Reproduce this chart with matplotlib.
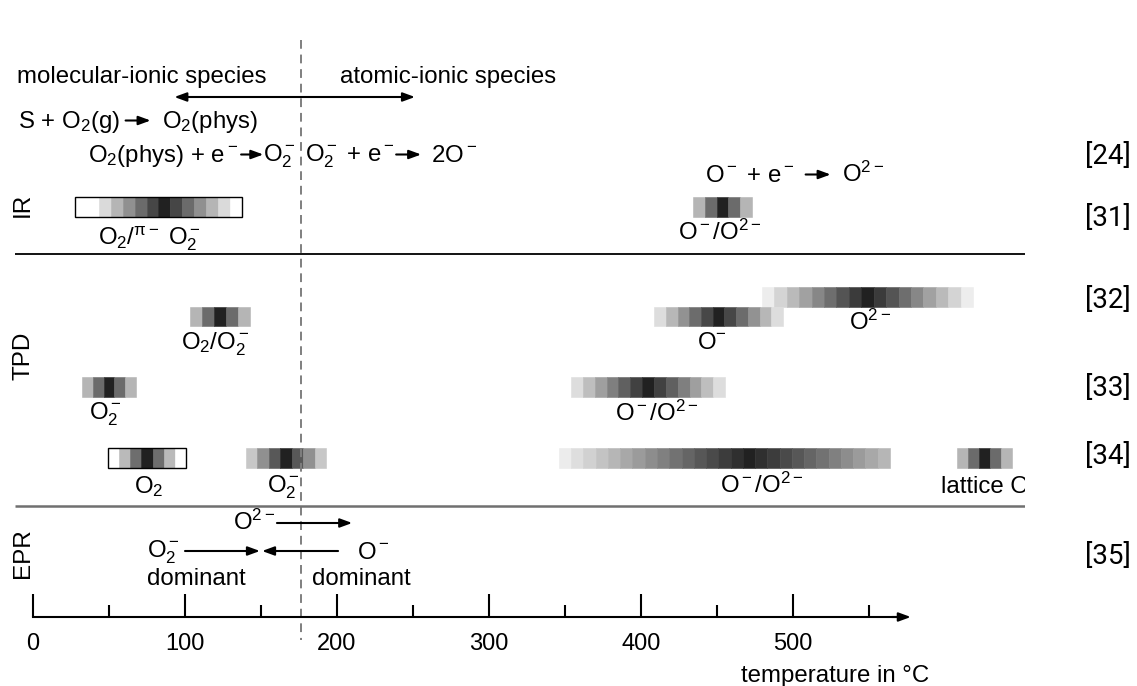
import matplotlib.pyplot as plt
import numpy as np

plt.rcParams['font.family'] = ['Liberation Sans', 'DejaVu Sans']
plt.rcParams['mathtext.fontset'] = 'custom'
plt.rcParams['mathtext.rm'] = 'Liberation Sans'
plt.rcParams['mathtext.it'] = 'Liberation Sans:italic'
plt.rcParams['mathtext.default'] = 'regular'
plt.rcParams['mathtext.fallback'] = 'stixsans'

# --- data (temperatures in degC) ---
boundary_T = 176

bar_row = ['IR', 'IR', 'TPD0', 'TPD1', 'TPD1', 'TPD2', 'TPD2', 'TPD3', 'TPD3', 'TPD3', 'TPD3']
bar_start = [27.6, 434.2, 479.6, 408.6, 103.3, 32.2, 354.0, 49.3, 140.1, 346.0, 607.9]
bar_end = [137.5, 473.0, 618.4, 493.4, 142.8, 67.8, 455.3, 100.7, 192.8, 563.8, 644.1]
bar_cells = [14, 5, 17, 11, 5, 5, 13, 7, 7, 27, 5]
bar_peak = [7, 2, 8, 5, 2, 2, 6, 3, 3, 15, 2]
bar_fade = [0.145, 0.29, 0.1, 0.147, 0.29, 0.29, 0.123, 0.3, 0.217, 0.053, 0.29]
bar_frame = [True, False, False, False, False, False, False, True, False, False, False]
bar_label = [r'O$_2$/$^{\pi-}$ O$_2^-$', r'O$^-$/O$^{2-}$', r'O$^{2-}$', r'O$^{-}$',
             r'O$_2$/O$_2^-$', r'O$_2^-$', r'O$^-$/O$^{2-}$', r'O$_2$', r'O$_2^-$',
             r'O$^-$/O$^{2-}$', 'lattice O']

refs = ['[24]', '[31]', '[32]', '[33]', '[34]', '[35]']

# EPR arrows (start T, end T)
epr_start = [160.5, 100.0, 200.7]
epr_end = [210.0, 149.3, 150.7]
# molecular <-> atomic range
range_T = [93.0, 251.3]

# --- layout (vertical positions in pixels from top) ---
row_y = {'IR': 207, 'TPD0': 297, 'TPD1': 316.5, 'TPD2': 387, 'TPD3': 458}
bar_h = 19.5
label_x = [76.6, 452, 550.7, 446.7, 119.7, 47.4, 410.5, 76.3, 164.5, 479.6, 626]
label_dy = [28, 23, 23, 23, 23, 23, 24, 25, 25, 25, 25]
ref_y = [157, 219, 300, 388, 456, 556]
epr_y = [523, 551, 551]
axis_y = 617
fs = 17.3

fig = plt.figure(figsize=(11.37, 6.86), dpi=100)
ax = fig.add_axes([0, 0, 1025 / 1137, 1])
ax.set_xlim(-33 / 1.52, (1025 - 33) / 1.52)
ax.set_ylim(686, 0)

arrow_kw = dict(color='black', lw=1.5, mutation_scale=12)

# gradient bars
for r, s, e, n, p, f, fr in zip(bar_row, bar_start, bar_end, bar_cells,
                                  bar_peak, bar_fade, bar_frame):
    w = (e - s) / n
    lefts = s + w * np.arange(n)
    shade = np.minimum(1, 0.13 + f * np.abs(np.arange(n) - p))
    cols = [str(g) for g in shade]
    ax.barh(np.full(n, row_y[r]), w, left=lefts, height=bar_h, color=cols,
            edgecolor=cols, linewidth=0.4, align='center')
    if fr:
        ax.barh(row_y[r], e - s, left=s, height=bar_h, fill=False,
                edgecolor='black', linewidth=1.0)

for r, lab, lx, dy in zip(bar_row, bar_label, label_x, label_dy):
    ax.text(lx, row_y[r] + bar_h / 2 + dy, lab, ha='center', va='baseline',
            fontsize=fs, clip_on=True)

# separators and boundary
ax.vlines(boundary_T, 40, 640, colors='#7f7f7f', linestyles=(0, (4.5, 3)), lw=1.4)
ax.hlines(254, -11.8, 700, colors='black', lw=1.3)
ax.hlines(506, -11.8, 700, colors='#707070', lw=1.8)

# method labels
for name, y in [('IR', 205), ('TPD', 356), ('EPR', 553)]:
    ax.text(-6.5, y, name, rotation=90, ha='center', va='center', fontsize=17.5)

# reference labels
for lab, y in zip(refs, ref_y):
    ax.text(707, y, lab, ha='center', va='center', fontsize=20,
            family='Roboto', clip_on=False)


def reaction(x0, y, parts, gap_a=4, gap_b=5, length=18):
    """Write text pieces on one baseline, joined by drawn reaction arrows."""
    prev = ax.text(x0, y, parts[0], fontsize=fs, va='baseline')
    ya = y - 7.5
    for p in parts[1:]:
        ax.annotate('', xy=(1, ya), xycoords=(prev, 'data'),
                    xytext=(gap_a + length, 0), textcoords='offset points',
                    arrowprops=dict(arrowstyle='<|-,head_length=0.6,head_width=0.22',
                                    shrinkA=0, shrinkB=gap_a, **arrow_kw))
        prev = ax.annotate(p, xy=(1, y), xycoords=(prev, 'data'),
                           xytext=(gap_a + length + gap_b, 0),
                           textcoords='offset points', fontsize=fs,
                           va='baseline', ha='left')


# top annotations
ax.text(-10.5, 83, 'molecular-ionic species', fontsize=fs, va='baseline')
ax.text(202, 83, 'atomic-ionic species', fontsize=fs, va='baseline')
ax.annotate('', xy=(range_T[1], 97), xytext=(range_T[0], 97),
            arrowprops=dict(arrowstyle='<|-|>,head_length=0.6,head_width=0.22',
                            shrinkA=0, shrinkB=0, **arrow_kw))
reaction(-9.9, 128, ['S + O$_2$(g)', 'O$_2$(phys)'], gap_a=4, gap_b=8)
reaction(36.2, 162, ['O$_2$(phys) + e$^-$', 'O$_2^-$'], gap_a=2, gap_b=0, length=16)
reaction(179.0, 162, ['O$_2^-$ + e$^-$', '2O$^-$'], gap_a=1, gap_b=7)
reaction(442.0, 182, ['O$^-$ + e$^-$', 'O$^{2-}$'], gap_a=8, gap_b=8)

# EPR section
for s, e, y in zip(epr_start, epr_end, epr_y):
    ax.annotate('', xy=(e, y), xytext=(s, y),
                arrowprops=dict(arrowstyle='-|>,head_length=0.6,head_width=0.22',
                                shrinkA=0, shrinkB=0, **arrow_kw))
ax.text(159.0, 530, r'O$^{2-}$', ha='right', va='baseline', fontsize=fs)
ax.text(75.0, 558, r'O$_2^-$', ha='left', va='baseline', fontsize=fs)
ax.text(213.2, 559, r'O$^-$', ha='left', va='baseline', fontsize=fs)
ax.text(75.0, 585, 'dominant', ha='left', va='baseline', fontsize=fs)
ax.text(183.6, 585, 'dominant', ha='left', va='baseline', fontsize=fs)

# temperature axis
for side in ['top', 'left', 'right']:
    ax.spines[side].set_visible(False)
ax.yaxis.set_visible(False)
ax.spines['bottom'].set_position(('data', axis_y))
ax.spines['bottom'].set_bounds(0, 570)
ax.spines['bottom'].set_linewidth(1.5)
ax.set_xticks(np.arange(0, 501, 100))
ax.set_xticks(np.arange(50, 551, 100), minor=True)
ax.tick_params(axis='x', which='major', direction='in', length=16.5, width=1.5,
               labelsize=17, pad=11.5)
ax.tick_params(axis='x', which='minor', direction='in', length=8.6, width=1.5)
ax.annotate('', xy=(577.5, axis_y), xytext=(565, axis_y),
            arrowprops=dict(arrowstyle='-|>,head_length=0.6,head_width=0.22',
                            shrinkA=0, shrinkB=0, **arrow_kw))
ax.text(527.6, 676, 'temperature in °C', ha='center', va='center', fontsize=fs)

fig.savefig('out.png', dpi=100)
